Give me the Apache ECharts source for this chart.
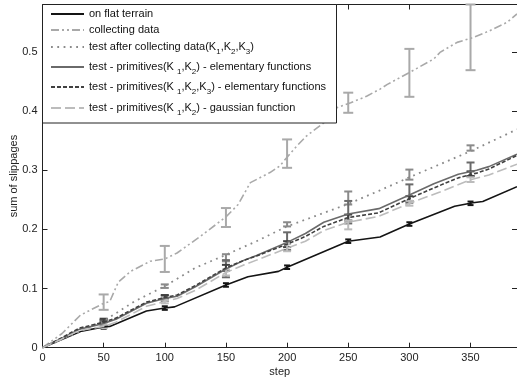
<!DOCTYPE html>
<html><head><meta charset="utf-8">
<script src="https://cdn.jsdelivr.net/npm/echarts@6/dist/echarts.min.js"></script>
<style>html,body{margin:0;padding:0;background:#fff}#c{width:517px;height:381px}</style>
</head><body><div id="c"></div>
<script>
// ---- data ----
const seriesNames = ['on flat terrain','collecting data','test after collecting data(K1,K2,K3)',
  'test - primitives(K1,K2) - elementary functions','test - primitives(K1,K2,K3) - elementary functions',
  'test - primitives(K1,K2) - gaussian function'];
const legendLabels = ['on flat terrain','collecting data','test after collecting data(K{s|1},K{s|2},K{s|3})',
  'test - primitives(K {s|1},K{s|2}) - elementary functions','test - primitives(K {s|1},K{s|2},K{s|3}) - elementary functions',
  'test - primitives(K {s|1},K{s|2}) - gaussian function'];
const xTicks = [0,50,100,150,200,250,300,350];
const yTicks = [0,0.1,0.2,0.3,0.4,0.5];

const flatTerrain = [[0,0],[32,0.028],[50,0.035],[55,0.036],[85,0.062],[100,0.067],[108,0.069],[150,0.106],[168,0.12],[193,0.129],[200,0.136],[250,0.18],[276,0.187],[300,0.209],[337,0.239],[352,0.245],[360,0.247],[388,0.272]];
const collecting = [[0,0],[16,0.024],[31,0.055],[50,0.075],[55,0.078],[62,0.111],[72,0.129],[88,0.146],[100,0.15],[110,0.16],[129,0.188],[150,0.221],[160,0.242],[170,0.279],[186,0.296],[194,0.307],[200,0.322],[208,0.341],[216,0.358],[230,0.38],[241,0.406],[252,0.414],[265,0.425],[276,0.437],[282,0.445],[300,0.465],[320,0.488],[325,0.499],[339,0.516],[352,0.524],[365,0.535],[380,0.55],[388,0.564]];
const testAfter = [[0,0],[25,0.022],[50,0.045],[75,0.078],[100,0.104],[125,0.135],[150,0.157],[175,0.18],[200,0.205],[225,0.224],[250,0.243],[275,0.265],[300,0.288],[325,0.31],[350,0.332],[388,0.369]];
const primElem12 = [[0,0],[15,0.015],[30,0.031],[50,0.041],[60,0.048],[85,0.075],[100,0.083],[110,0.087],[125,0.103],[150,0.133],[165,0.148],[175,0.156],[200,0.178],[215,0.193],[230,0.212],[250,0.226],[275,0.235],[300,0.258],[320,0.277],[340,0.293],[355,0.3],[365,0.306],[388,0.327]];
const primElem123 = [[0,0],[15,0.016],[30,0.033],[50,0.043],[60,0.05],[85,0.077],[100,0.085],[110,0.089],[125,0.105],[150,0.135],[165,0.148],[175,0.155],[200,0.175],[215,0.188],[230,0.205],[250,0.22],[275,0.228],[300,0.252],[320,0.27],[340,0.287],[355,0.295],[365,0.302],[388,0.325]];
const primGauss = [[0,0],[15,0.014],[30,0.029],[50,0.036],[60,0.043],[85,0.07],[100,0.078],[110,0.083],[125,0.097],[150,0.127],[165,0.14],[175,0.148],[200,0.168],[215,0.18],[230,0.198],[250,0.212],[275,0.222],[300,0.244],[325,0.263],[350,0.284],[365,0.292],[388,0.31]];

// error bars: [step, low, high]
const flatTerrainErr = [[50,0.032,0.038],[100,0.064,0.07],[150,0.103,0.109],[200,0.133,0.139],[250,0.177,0.183],[300,0.206,0.212],[350,0.241,0.247]];
const collectingErr = [[50,0.064,0.09],[100,0.128,0.172],[150,0.204,0.236],[200,0.304,0.352],[250,0.397,0.431],[300,0.424,0.505],[350,0.469,0.58]];
const testAfterErr = [[50,0.043,0.047],[100,0.101,0.107],[150,0.146,0.158],[200,0.205,0.212],[250,0.242,0.264],[300,0.284,0.301],[350,0.333,0.342]];
const primElem12Err = [[50,0.037,0.047],[100,0.079,0.088],[150,0.119,0.148],[200,0.165,0.195],[250,0.21,0.248],[300,0.245,0.276],[350,0.29,0.313]];
const primElem123Err = [[50,0.044,0.049],[100,0.083,0.089],[150,0.13,0.14],[200,0.17,0.18],[250,0.215,0.225],[300,0.248,0.256],[350,0.29,0.298]];
const primGaussErr = [[50,0.033,0.039],[100,0.075,0.081],[150,0.122,0.132],[200,0.163,0.175],[250,0.2,0.215],[300,0.24,0.248],[350,0.28,0.288]];

// ---- chart ----
const FONT = 'Liberation Sans, Arial, sans-serif';
const AX = '#222';
const chart = echarts.init(document.getElementById('c'), null, {renderer:'canvas'});

function lineS(name, data, color, width, type) {
  return {type:'line', name, data, symbol:'none', showSymbol:false, smooth:false, z:3,
    lineStyle:{color, width, type}, itemStyle:{color}, emphasis:{disabled:true}, animation:false};
}
function errS(name, data, color, width, capW) {
  return {type:'custom', name, data, z:3, silent:true, animation:false, encode:{x:0, y:[1,2]},
    renderItem:(params, api) => {
      const x = api.value(0), lo = api.value(1), hi = api.value(2);
      const p1 = api.coord([x, lo]), p2 = api.coord([x, hi]);
      const h = capW/2, st = {stroke:color, lineWidth:width};
      return {type:'group', children:[
        {type:'line', shape:{x1:p1[0],y1:p1[1],x2:p2[0],y2:p2[1]}, style:st},
        {type:'line', shape:{x1:p1[0]-h,y1:p1[1],x2:p1[0]+h,y2:p1[1]}, style:st},
        {type:'line', shape:{x1:p2[0]-h,y1:p2[1],x2:p2[0]+h,y2:p2[1]}, style:st}]};
    }};
}

const colors = ['#141414','#a9a9a9','#8a8a8a','#6a6a6a','#404040','#bcbcbc'];
const legendTops = [7.5, 23.5, 38.5, 58.5, 78.5, 99.5];
const legends = seriesNames.map((n,i) => ({
  left:50, top:legendTops[i], orient:'horizontal', padding:0, itemWidth:33, itemHeight:10, itemGap:0,
  data:[n], z:20, selectedMode:false, itemStyle:{opacity:0},
  formatter: () => legendLabels[i],
  textStyle:{fontFamily:FONT, fontSize:11, color:'#111', lineHeight:13,
    rich:{s:{fontFamily:FONT, fontSize:8, color:'#111', verticalAlign:'bottom', lineHeight:17}}}
}));

const axisCommon = {type:'value', axisLine:{show:true, onZero:false, lineStyle:{color:AX, width:1}},
  axisTick:{show:true, inside:true, length:5, lineStyle:{color:AX}}, splitLine:{show:false}};

chart.setOption({
  animation:false,
  backgroundColor:'#fff',
  grid:{left:42.5, top:4.5, right:0, bottom:33.3, containLabel:false, outerBoundsMode:'none'},
  legend: legends,
  xAxis:[
    Object.assign({}, axisCommon, {position:'bottom', min:0, max:388, interval:50,
      axisLabel:{color:AX, fontFamily:FONT, fontSize:11, margin:5, showMaxLabel:false},
      name:'step', nameLocation:'middle', nameGap:19, nameMoveOverlap:false,
      nameTextStyle:{color:AX, fontFamily:FONT, fontSize:11}}),
    Object.assign({}, axisCommon, {position:'top', min:0, max:388, interval:50, axisLabel:{show:false}})
  ],
  yAxis:[
    Object.assign({}, axisCommon, {position:'left', min:0, max:0.58, interval:0.1,
      axisLabel:{color:AX, fontFamily:FONT, fontSize:11, margin:5, showMaxLabel:false,
        formatter: v => v === 0 ? '0' : (Math.round(v*10)/10).toString()},
      name:'sum of slippages', nameLocation:'middle', nameGap:23, nameMoveOverlap:false,
      nameTextStyle:{color:AX, fontFamily:FONT, fontSize:11}}),
    Object.assign({}, axisCommon, {position:'right', min:0, max:0.58, interval:0.1, axisLabel:{show:false}})
  ],
  graphic:{elements:[{type:'rect', z:10, zlevel:0, shape:{x:42.5, y:4.5, width:294, height:118.5},
    style:{fill:'#fff', stroke:AX, lineWidth:1}}]},
  series:[
    errS('e1', flatTerrainErr, colors[0], 2, 6),
    errS('e2', collectingErr, colors[1], 2, 10),
    errS('e3', testAfterErr, colors[2], 2, 8),
    errS('e4', primElem12Err, colors[3], 2, 8),
    errS('e5', primElem123Err, colors[4], 2, 8),
    errS('e6', primGaussErr, colors[5], 2, 8),
    lineS(seriesNames[0], flatTerrain, colors[0], 1.6, 'solid'),
    lineS(seriesNames[1], collecting, colors[1], 1.6, [8,3,2,3,2,3]),
    lineS(seriesNames[2], testAfter, colors[2], 1.8, [1.8,4.5]),
    lineS(seriesNames[3], primElem12, colors[3], 1.6, 'solid'),
    lineS(seriesNames[4], primElem123, colors[4], 1.6, [4,2]),
    lineS(seriesNames[5], primGauss, colors[5], 1.6, [10,4])
  ]
});
</script></body></html>
